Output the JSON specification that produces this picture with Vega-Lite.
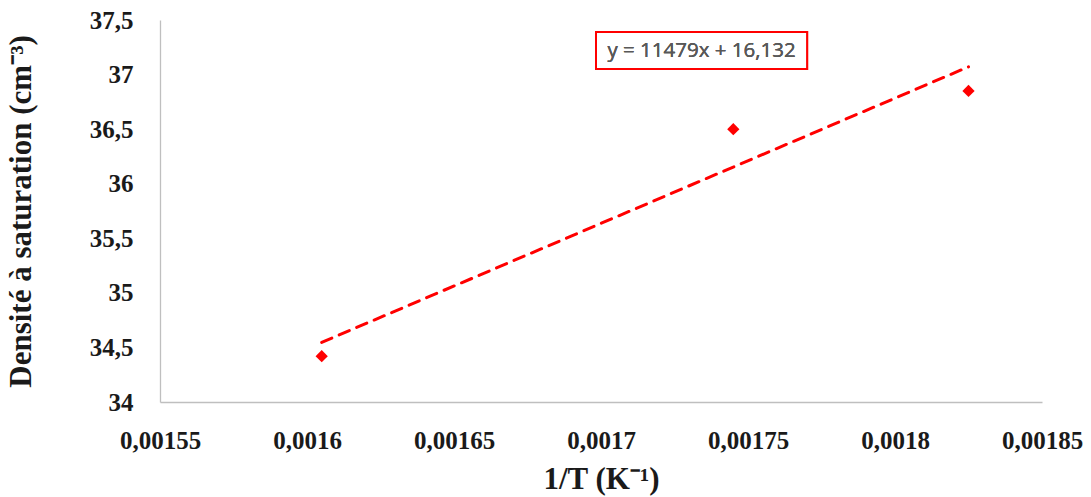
{
  "$schema": "https://vega.github.io/schema/vega-lite/v6.json",
  "width": 882,
  "height": 382,
  "autosize": {"type": "none"},
  "padding": {"left": 160, "top": 20, "right": 49, "bottom": 95},
  "background": "white",
  "config": {
    "view": {"stroke": null},
    "axis": {"grid": false, "ticks": false, "domainColor": "#BFBFBF", "domainWidth": 1.3, "labelFlush": false,
      "labelFont": "Liberation Serif", "labelFontWeight": "bold", "labelFontSize": 25, "labelColor": "#1a1a1a",
      "titleFont": "Liberation Serif", "titleFontWeight": "bold", "titleFontSize": 31, "titleColor": "#1a1a1a"}
  },
  "data": {"values": [
    {"invT": 0.001605, "densite": 34.42},
    {"invT": 0.001745, "densite": 36.5},
    {"invT": 0.001825, "densite": 36.85}
  ]},
  "layer": [
    {
      "transform": [{"regression": "densite", "on": "invT"}],
      "mark": {"type": "line", "color": "#FF0000", "strokeWidth": 3, "strokeDash": [11, 8], "strokeCap": "round"},
      "encoding": {
        "x": {"field": "invT", "type": "quantitative"},
        "y": {"field": "densite", "type": "quantitative"}
      }
    },
    {
      "mark": {"type": "point", "shape": "diamond", "filled": true, "color": "#FF0000", "size": 150, "opacity": 1},
      "encoding": {
        "x": {"field": "invT", "type": "quantitative",
          "scale": {"domain": [0.00155, 0.00185], "nice": false, "zero": false},
          "axis": {"title": "1/T (K⁻¹)", "values": [0.00155, 0.0016, 0.00165, 0.0017, 0.00175, 0.0018, 0.00185],
            "labelExpr": "replace(format(datum.value, '~g'), '.', ',')", "labelPadding": 26, "titlePadding": 11}},
        "y": {"field": "densite", "type": "quantitative",
          "scale": {"domain": [34, 37.5], "nice": false, "zero": false},
          "axis": {"title": "Densité à saturation (cm⁻³)", "values": [34, 34.5, 35, 35.5, 36, 36.5, 37, 37.5],
            "labelExpr": "replace(format(datum.value, '~g'), '.', ',')", "labelPadding": 27, "titlePadding": 52}}
      }
    },
    {
      "mark": {"type": "rect", "fill": "white", "stroke": "#FF0000", "strokeWidth": 2},
      "encoding": {
        "x": {"datum": 0.0016983, "type": "quantitative"},
        "x2": {"datum": 0.0017701},
        "y": {"datum": 37.39, "type": "quantitative"},
        "y2": {"datum": 37.051}
      }
    },
    {
      "mark": {"type": "text", "text": "y = 11479x + 16,132", "font": "Open Sans", "fontSize": 20.5, "color": "#595959", "align": "center", "baseline": "middle"},
      "encoding": {
        "x": {"datum": 0.0017342, "type": "quantitative"},
        "y": {"datum": 37.22, "type": "quantitative"}
      }
    }
  ]
}
